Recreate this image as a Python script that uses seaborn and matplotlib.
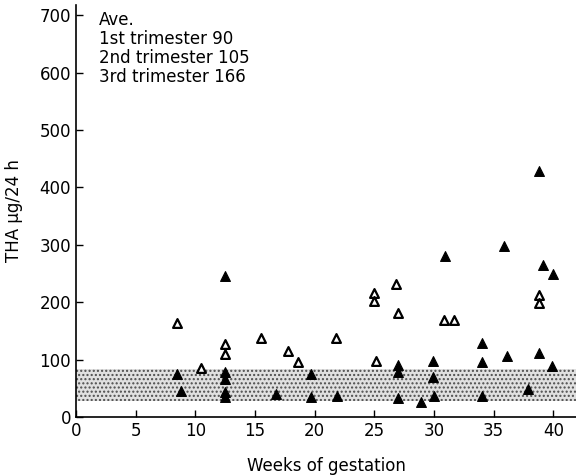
import matplotlib
matplotlib.use("Agg")
import matplotlib.pyplot as plt
import seaborn as sns
import pandas as pd

# Open triangles
open_weeks = [8.5, 10.5, 12.5, 12.5, 15.5, 17.8, 18.6, 21.8, 25.0, 25.0, 25.1, 26.8, 27.0, 30.8, 31.7, 38.8, 38.8]
open_values = [163, 86, 128, 109, 137, 115, 95, 138, 216, 202, 98, 231, 181, 169, 169, 212, 198]

# Filled triangles
filled_weeks = [8.5, 8.8, 12.5, 12.5, 12.5, 12.5, 12.5, 16.8, 19.7, 19.7, 21.9, 27.0, 27.0, 27.0,
                28.9, 29.9, 29.9, 30.0, 30.9, 34.0, 34.0, 34.0, 35.9, 36.1, 37.9, 38.8, 39.1, 38.8, 40.0, 39.9]
filled_values = [75, 46, 245, 79, 67, 44, 35, 40, 75, 35, 37, 91, 78, 34,
                 27, 98, 70, 37, 281, 129, 95, 37, 298, 107, 48, 428, 265, 112, 249, 89]

band_low, band_high = 28, 83
legend_lines = ["Ave.", "1st trimester 90", "2nd trimester 105", "3rd trimester 166"]
y_ticks = [0, 100, 200, 300, 400, 500, 600, 700]
x_ticks = [0, 5, 10, 15, 20, 25, 30, 35, 40]

sns.set_theme(style="ticks")
plt.rcParams['font.family'] = ['DejaVu Sans']
plt.rcParams['hatch.linewidth'] = 1.0
plt.rcParams['text.color'] = 'black'
plt.rcParams['axes.labelcolor'] = 'black'

fig = plt.figure(figsize=(5.76, 4.75), dpi=100)
ax = fig.add_axes([0.132, 0.122, 0.868, 0.868])

ax.axhspan(band_low, band_high, facecolor='0.88', hatch='....', edgecolor='0.3', linewidth=0, zorder=0)

df_open = pd.DataFrame({"week": open_weeks, "value": open_values})
df_filled = pd.DataFrame({"week": filled_weeks, "value": filled_values})

sns.scatterplot(data=df_filled, x="week", y="value", marker="^", s=50, color="black",
                edgecolor="black", linewidth=0.8, ax=ax, zorder=3)
sns.scatterplot(data=df_open, x="week", y="value", marker="^", s=40, color="white",
                edgecolor="black", linewidth=1.6, ax=ax, zorder=3)

ax.set_xlim(0, 41.9)
ax.set_ylim(0, 718)
ax.set_xticks(x_ticks)
ax.set_yticks(y_ticks)
ax.tick_params(direction='in', length=5, width=1, labelsize=12, colors='black')
for s in ['top', 'right']:
    ax.spines[s].set_visible(False)
for s in ['left', 'bottom']:
    ax.spines[s].set_linewidth(1.2)
    ax.spines[s].set_color('black')

ax.set_xlabel("Weeks of gestation", fontsize=12, labelpad=12)
ax.set_ylabel("THA µg/24 h", fontsize=12, labelpad=12)

for i, line in enumerate(legend_lines):
    ax.text(0.045, 0.985 - i * 0.046, line, transform=ax.transAxes, fontsize=12,
            va='top', ha='left')

fig.savefig("out.png", dpi=100)
